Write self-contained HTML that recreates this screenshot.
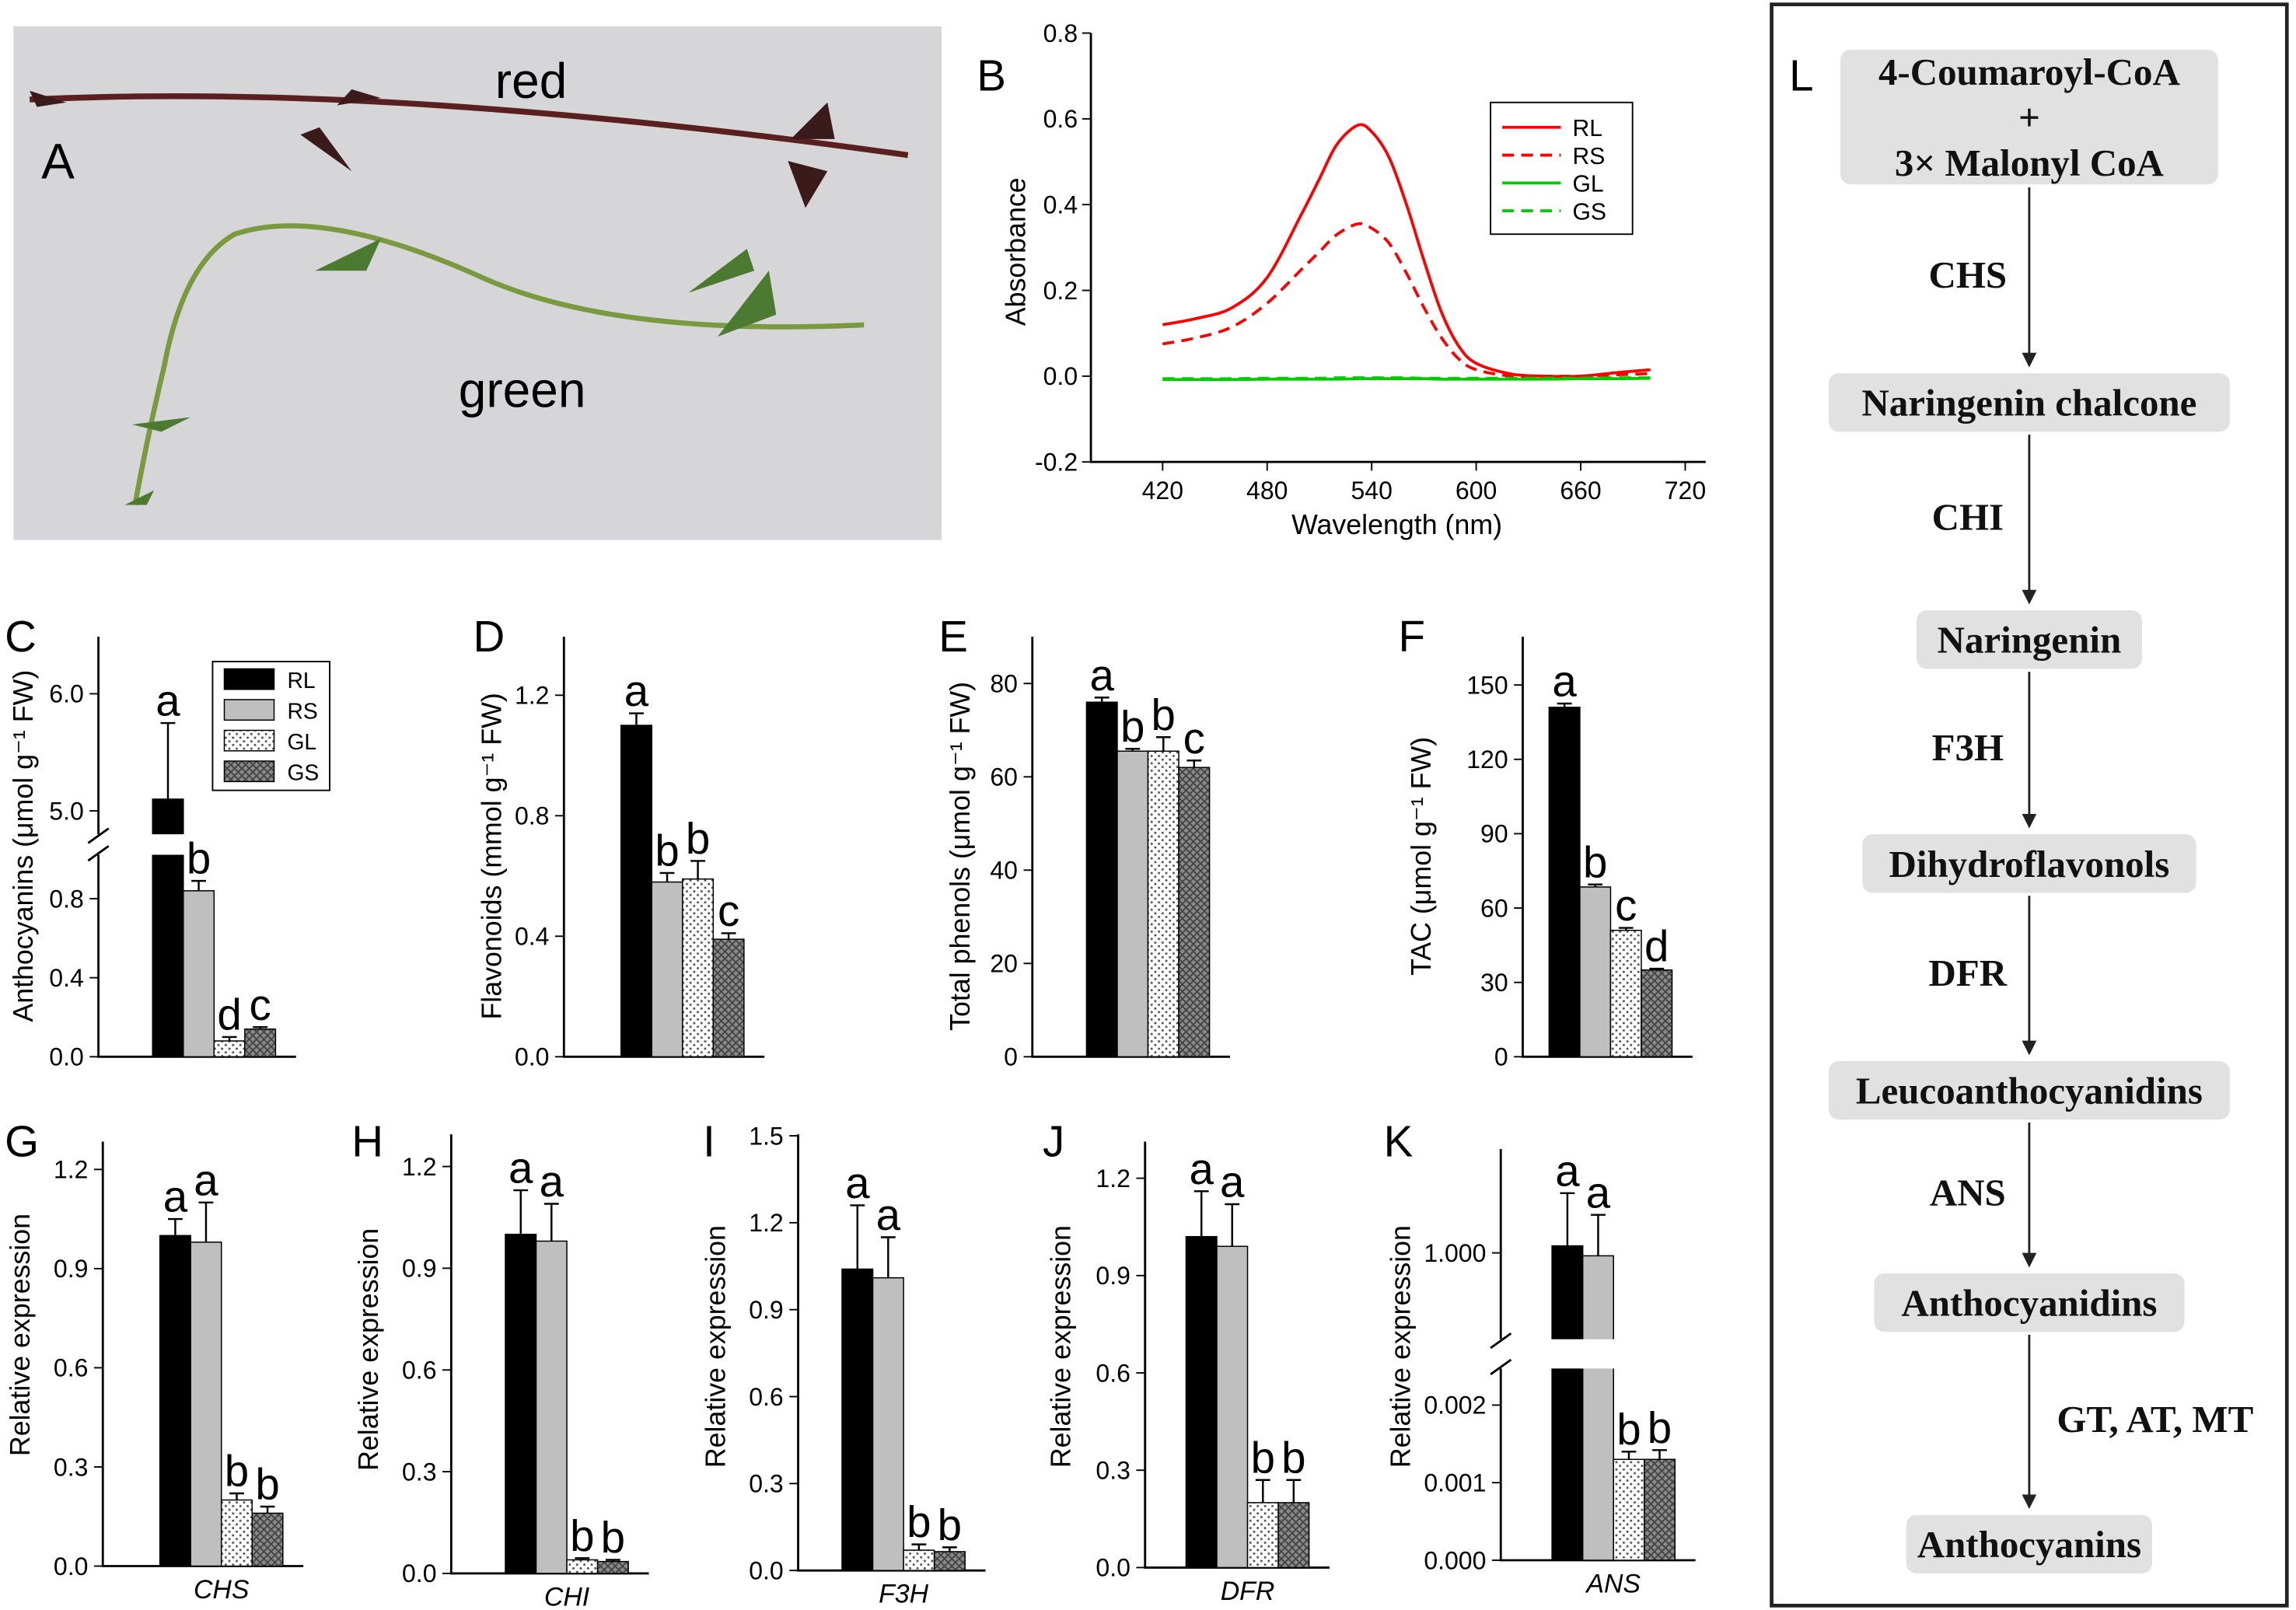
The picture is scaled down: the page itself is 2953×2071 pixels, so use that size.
<!DOCTYPE html>
<html><head><meta charset="utf-8"><style>
html,body{margin:0;padding:0;background:#fff}
svg{display:block}
text{font-family:"Liberation Sans",Arial,sans-serif}
.serif{font-family:"Liberation Serif","Times New Roman",serif;font-weight:bold}
</style></head><body>
<svg id="fig" xmlns="http://www.w3.org/2000/svg" width="2953" height="2071" viewBox="0 0 1568 1100">
<defs>
<pattern id="dots" width="5" height="5" patternUnits="userSpaceOnUse"><rect width="5" height="5" fill="#fff"/><circle cx="1.5" cy="1.5" r="0.8" fill="#555"/><circle cx="4" cy="4" r="0.8" fill="#555"/></pattern>
<pattern id="cross" width="5" height="5" patternUnits="userSpaceOnUse"><rect width="5" height="5" fill="#8a8a8a"/><path d="M0,0L5,5M5,0L0,5" stroke="#444" stroke-width="1"/></pattern>
<marker id="arr" markerWidth="10" markerHeight="10" refX="8" refY="5" orient="auto" markerUnits="userSpaceOnUse"><path d="M0,0L10,5L0,10z" fill="#222"/></marker>
</defs>
<g>
<rect x="9" y="18" width="634" height="351" fill="#d6d6d9"/>
<path d="M20,68 Q150,62 300,72 T620,106" stroke="#5a2020" stroke-width="4" fill="none"/>
<path d="M20,62 l25,8 l-20,3z M205,92 l35,25 l-22,-30z M230,72 l30,-5 l-20,-6z M540,95 l25,-25 l5,25z M538,110 l12,32 l15,-25z" fill="#3a1a1a"/>
<path d="M92,345 Q100,300 112,250 Q125,180 160,160 Q220,140 330,190 Q420,230 590,222" stroke="#7a9a40" stroke-width="3.5" fill="none"/>
<path d="M215,185 l45,-22 l-10,22z M470,200 l40,-30 l5,15z M490,230 l35,-45 l5,30z M90,290 l40,-5 l-20,10z M85,345 l20,-10 l-5,10z" fill="#4b7a30"/>
<text x="28" y="122" font-size="34">A</text>
<text x="338" y="67" font-size="34">red</text>
<text x="313" y="278" font-size="34">green</text>
</g>
<g id="pathway">
<rect x="1210" y="3" width="352" height="1094" fill="none" stroke="#222" stroke-width="2.5"/>
<text x="1222" y="62" font-size="30">L</text>
</g>
<g id="charts"></g>
</svg>
<script>
const NS="http://www.w3.org/2000/svg";
const root=document.getElementById('charts');
function el(tag,attrs,parent,txt){const e=document.createElementNS(NS,tag);for(const k in attrs)e.setAttribute(k,attrs[k]);if(txt!==undefined)e.textContent=txt;(parent||root).appendChild(e);return e;}

const bWavelengths=[420,440,460,480,500,510,520,532,540,550,560,570,580,590,600,620,640,660,680,700];
const bRL=[0.12,0.135,0.16,0.23,0.38,0.46,0.54,0.585,0.57,0.51,0.40,0.27,0.15,0.07,0.03,0.005,0.0,0.0,0.008,0.015];
const bRS=[0.075,0.09,0.115,0.17,0.25,0.29,0.33,0.355,0.345,0.31,0.24,0.16,0.09,0.04,0.015,0.0,0.0,0.0,0.003,0.006];
const bGL=[-0.008,-0.008,-0.008,-0.007,-0.007,-0.007,-0.007,-0.006,-0.006,-0.006,-0.006,-0.006,-0.007,-0.007,-0.007,-0.007,-0.007,-0.006,-0.006,-0.005];
const bGS=[-0.006,-0.006,-0.006,-0.005,-0.005,-0.005,-0.004,-0.004,-0.004,-0.004,-0.004,-0.005,-0.005,-0.005,-0.005,-0.005,-0.005,-0.005,-0.004,-0.004];
const bXTicks=[420,480,540,600,660,720];
const bYTicks=[-0.2,0.0,0.2,0.4,0.6,0.8];

const groups=['RL','RS','GL','GS'];
const cVals=[5.1,0.84,0.08,0.14], cErr=[0.65,0.05,0.02,0.01], cLetters=['a','b','d','c'];
const dVals=[1.1,0.58,0.59,0.39], dErr=[0.04,0.03,0.06,0.02], dLetters=['a','b','b','c'];
const eVals=[76,65.5,65.5,62], eErr=[1,0.5,3,1.5], eLetters=['a','b','b','c'];
const fVals=[141,68.5,51,35], fErr=[1.5,1,1,0.5], fLetters=['a','b','c','d'];
const gVals=[1.0,0.98,0.2,0.16], gErr=[0.05,0.12,0.02,0.02], gLetters=['a','a','b','b'];
const hVals=[1.0,0.98,0.04,0.035], hErr=[0.13,0.11,0.005,0.005], hLetters=['a','a','b','b'];
const iVals=[1.04,1.01,0.07,0.065], iErr=[0.22,0.14,0.02,0.015], iLetters=['a','a','b','b'];
const jVals=[1.02,0.99,0.2,0.2], jErr=[0.14,0.13,0.07,0.07], jLetters=['a','a','b','b'];
const kVals=[1.012,0.995,0.0013,0.0013], kErr=[0.09,0.07,0.0001,0.00012], kLetters=['a','a','b','b'];
const fills=['#000','#bfbfbf','url(#dots)','url(#cross)'];

const pathNodes=['4-Coumaroyl-CoA|+|3× Malonyl CoA','Naringenin chalcone','Naringenin','Dihydroflavonols','Leucoanthocyanidins','Anthocyanidins','Anthocyanins'];
const pathEnzymes=['CHS','CHI','F3H','DFR','ANS','GT, AT, MT'];

function smooth(pts){let d='M'+pts[0][0]+','+pts[0][1];for(let i=0;i<pts.length-1;i++){const p0=pts[i-1]||pts[i],p1=pts[i],p2=pts[i+1],p3=pts[i+2]||p2;const c1=[p1[0]+(p2[0]-p0[0])/6,p1[1]+(p2[1]-p0[1])/6],c2=[p2[0]-(p3[0]-p1[0])/6,p2[1]-(p3[1]-p1[1])/6];d+=`C${c1[0]},${c1[1]} ${c2[0]},${c2[1]} ${p2[0]},${p2[1]}`;}return d;}

(function(){
 const g=el('g',{});  
 const X=v=>794+(v-420)*(1151-794)/300, Y=v=>257-v*293;
 el('text',{x:667,y:62,'font-size':30},g,'B');
 el('path',{d:`M745,${Y(0.8)}V${Y(-0.2)}H1165`,stroke:'#000','stroke-width':1.5,fill:'none'},g);
 bYTicks.forEach(t=>{el('line',{x1:739,x2:745,y1:Y(t),y2:Y(t),stroke:'#000'},g);const tx=el('text',{x:736,y:Y(t)+6,'font-size':17,'text-anchor':'end'},g,t.toFixed(1));});
 bXTicks.forEach(t=>{el('line',{x1:X(t),x2:X(t),y1:Y(-0.2),y2:Y(-0.2)+6,stroke:'#000'},g);const tx=el('text',{x:X(t),y:341,'font-size':17,'text-anchor':'middle'},g,t);});
 const xt=el('text',{x:954,y:365,'font-size':19,'text-anchor':'middle'},g,'Wavelength (nm)');
 const yt=el('text',{x:0,y:0,'font-size':19,'text-anchor':'middle',transform:'translate(700,172) rotate(-90)'},g,'Absorbance');
 const series=[[bRL,'#f00',''],[bRS,'#f00','8,5'],[bGL,'#0c0',''],[bGS,'#0c0','8,5']];
 series.forEach((s,i)=>{const p=el('path',{d:smooth(s[0].map((v,k)=>[X(bWavelengths[k]),Y(v)])),stroke:s[1],'stroke-width':2,fill:'none','stroke-dasharray':s[2]},g);});
 const lg=el('g',{},g);
 el('rect',{x:1018,y:70,width:97,height:90,fill:'#fff',stroke:'#000'},lg);
 series.forEach((s,i)=>{const yy=87+i*19;el('line',{x1:1026,x2:1066,y1:yy,y2:yy,stroke:s[1],'stroke-width':2,'stroke-dasharray':s[2]},lg);el('text',{x:1074,y:yy+6,'font-size':16},lg,groups[i]);});
})();

function barPanel(o){
 const g=el('g',{});  
 el('text',{x:o.lx,y:o.ly,'font-size':30},g,o.label);
 const Y=o.Y; const bw=21;
 el('path',o.brk?{d:`M${o.ax},${o.top}V${o.brk[0]}M${o.ax},${o.brk[1]}V${o.base}H${o.bx+4*bw+14}`,stroke:'#000','stroke-width':1.5,fill:'none'}:{d:`M${o.ax},${o.top}V${o.base}H${o.bx+4*bw+14}`,stroke:'#000','stroke-width':1.5,fill:'none'},g);
 if(o.brk){el('path',{d:`M${o.ax-7},${o.brk[0]+6}L${o.ax+7},${o.brk[0]-4}M${o.ax-7},${o.brk[1]+4}L${o.ax+7},${o.brk[1]-6}`,stroke:'#000','stroke-width':1.5},g);}
 o.ticks.forEach(t=>{const y=Y(t[0]);el('line',{x1:o.ax-6,x2:o.ax,y1:y,y2:y,stroke:'#000'},g);const tx=el('text',{x:o.ax-10,y:y+6,'font-size':17,'text-anchor':'end'},g,t[1]);});
 o.vals.forEach((v,i)=>{
  const x=o.bx+i*bw, yv=Y(v);
  const r=el('rect',{x:x,y:yv,width:bw,height:o.base-yv,fill:fills[i],stroke:'#000','stroke-width':0.8},g);
  
  if(o.brk&&i<2){el('rect',{x:x-1,y:o.brk[0],width:bw+2,height:o.brk[1]-o.brk[0],fill:'#fff'},g);}
  const ye=Y(v+o.err[i]);
  el('path',{d:`M${x+bw/2},${yv}V${ye}M${x+bw/2-5},${ye}H${x+bw/2+5}`,stroke:'#000','stroke-width':1.3},g);
  const lt=el('text',{x:x+bw/2,y:ye-5,'font-size':30,'text-anchor':'middle'},g,o.letters[i]);
 });
 const yt=el('text',{x:0,y:0,'font-size':19,'text-anchor':'middle',transform:`translate(${o.tx},${o.ty}) rotate(-90)`},g,o.ytitle);
 if(o.xlab){const xl=el('text',{x:o.bx+2*bw,y:o.base+22,'font-size':18,'font-style':'italic','text-anchor':'middle'},g,o.xlab);}
 if(o.legend){const lg=el('g',{},g);
  el('rect',{x:145,y:452,width:80,height:88,fill:'#fff',stroke:'#000'},lg);
  groups.forEach((n,i)=>{el('rect',{x:153,y:457+i*21,width:34,height:14,fill:fills[i],stroke:'#000','stroke-width':0.8},lg);el('text',{x:196,y:470+i*21,'font-size':15},lg,n);});}
}
const lin=(z,y1,v1)=>v=>z-(z-y1)*v/v1;
barPanel({name:'panel-c-anthocyanins',label:'C',lx:3,ly:445,ax:67,base:722,top:435,bx:104,vals:cVals,err:cErr,letters:cLetters,
 Y:v=>v<1.2?722-135*v:554-80*(v-5.0),brk:[570,584],ticks:[[0,'0.0'],[0.4,'0.4'],[0.8,'0.8'],[5.0,'5.0'],[6.0,'6.0']],
 ytitle:'Anthocyanins (μmol g⁻¹ FW)',tx:22,ty:578,legend:true});
barPanel({name:'panel-d-flavonoids',label:'D',lx:323,ly:445,ax:385,base:722,top:435,bx:424,vals:dVals,err:dErr,letters:dLetters,
 Y:lin(722,475,1.2),ticks:[[0,'0.0'],[0.4,'0.4'],[0.8,'0.8'],[1.2,'1.2']],ytitle:'Flavonoids (mmol g⁻¹ FW)',tx:342,ty:585});
barPanel({name:'panel-e-total-phenols',label:'E',lx:641,ly:445,ax:705,base:722,top:435,bx:742,vals:eVals,err:eErr,letters:eLetters,
 Y:lin(722,467,80),ticks:[[0,'0'],[20,'20'],[40,'40'],[60,'60'],[80,'80']],ytitle:'Total phenols (μmol g⁻¹ FW)',tx:662,ty:585});
barPanel({name:'panel-f-tac',label:'F',lx:955,ly:445,ax:1040,base:722,top:435,bx:1058,vals:fVals,err:fErr,letters:fLetters,
 Y:lin(722,468,150),ticks:[[0,'0'],[30,'30'],[60,'60'],[90,'90'],[120,'120'],[150,'150']],ytitle:'TAC (μmol g⁻¹ FW)',tx:977,ty:585});
barPanel({name:'panel-g-chs',label:'G',lx:3,ly:790,ax:70,base:1070,top:780,bx:109,vals:gVals,err:gErr,letters:gLetters,xlab:'CHS',
 Y:lin(1070,799,1.2),ticks:[[0,'0.0'],[0.3,'0.3'],[0.6,'0.6'],[0.9,'0.9'],[1.2,'1.2']],ytitle:'Relative expression',tx:20,ty:912});
barPanel({name:'panel-h-chi',label:'H',lx:240,ly:790,ax:308,base:1075,top:775,bx:345,vals:hVals,err:hErr,letters:hLetters,xlab:'CHI',
 Y:lin(1075,797,1.2),ticks:[[0,'0.0'],[0.3,'0.3'],[0.6,'0.6'],[0.9,'0.9'],[1.2,'1.2']],ytitle:'Relative expression',tx:258,ty:922});
barPanel({name:'panel-i-f3h',label:'I',lx:480,ly:790,ax:545,base:1073,top:775,bx:575,vals:iVals,err:iErr,letters:iLetters,xlab:'F3H',
 Y:lin(1073,776,1.5),ticks:[[0,'0.0'],[0.3,'0.3'],[0.6,'0.6'],[0.9,'0.9'],[1.2,'1.2'],[1.5,'1.5']],ytitle:'Relative expression',tx:495,ty:920});
barPanel({name:'panel-j-dfr',label:'J',lx:712,ly:790,ax:782,base:1071,top:780,bx:810,vals:jVals,err:jErr,letters:jLetters,xlab:'DFR',
 Y:lin(1071,805,1.2),ticks:[[0,'0.0'],[0.3,'0.3'],[0.6,'0.6'],[0.9,'0.9'],[1.2,'1.2']],ytitle:'Relative expression',tx:731,ty:920});
barPanel({name:'panel-k-ans',label:'K',lx:945,ly:790,ax:1025,base:1066,top:785,bx:1060,vals:kVals,err:kErr,letters:kLetters,xlab:'ANS',
 Y:v=>v<0.01?1066-53000*v:856-400*(v-1.0),brk:[915,935],ticks:[[0,'0.000'],[0.001,'0.001'],[0.002,'0.002'],[1.0,'1.000']],ytitle:'Relative expression',tx:963,ty:920});

(function(){
 const g=document.getElementById('pathway');
 const ys=[80,275,437,590,745,890,1055], hs=[92,40,40,40,40,40,40];
 const ws=[258,274,154,228,274,212,168];
 pathNodes.forEach((n,i)=>{
  const nd=el('g',{},g);
  el('rect',{x:1386-ws[i]/2,y:ys[i]-hs[i]/2,width:ws[i],height:hs[i],rx:7,fill:'#e1e1e1'},nd);
  const lines=n.split('|');
  lines.forEach((l,k)=>el('text',{x:1386,y:ys[i]+9+(k-(lines.length-1)/2)*31,'font-size':26,'text-anchor':'middle',class:'serif',fill:'#111'},nd,l));
 });
 pathEnzymes.forEach((e,i)=>{
  const y1=ys[i]+hs[i]/2+2, y2=ys[i+1]-hs[i+1]/2-6;
  el('line',{x1:1386,x2:1386,y1:y1,y2:y2,stroke:'#222','stroke-width':1.5,'marker-end':'url(#arr)'},g);
  const lx=i===5?1472:1344;
  const t=el('text',{x:lx,y:(y1+y2)/2+8,'font-size':26,'text-anchor':'middle',class:'serif',fill:'#111'},g,e);
  
 });
})();
</script>
</body></html>
